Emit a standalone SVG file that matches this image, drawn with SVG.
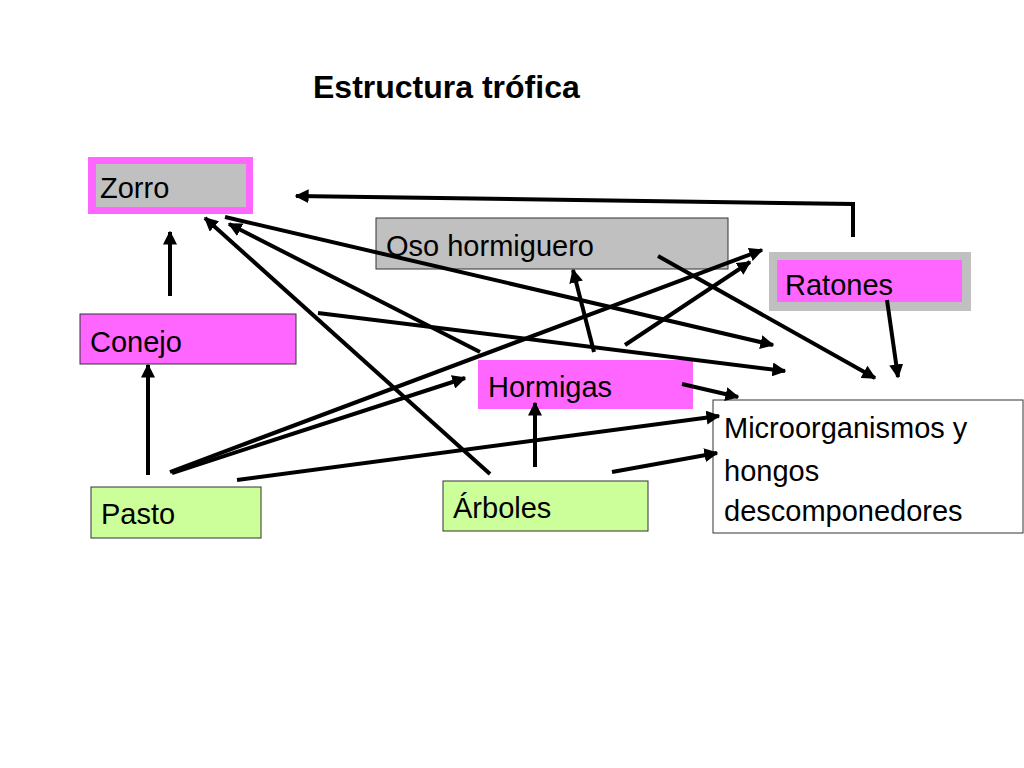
<svg xmlns="http://www.w3.org/2000/svg" width="1024" height="768" viewBox="0 0 1024 768">
<style>
text{font-family:"Liberation Sans",Arial,sans-serif;font-size:29px;fill:#000}
.c line,.c polyline{stroke:#000;stroke-width:4;fill:none;marker-end:url(#ah)}
</style>
<defs><marker id="ah" viewBox="0 0 10 10" refX="9" refY="5" markerWidth="3.5" markerHeight="3.5" orient="auto" markerUnits="strokeWidth"><path d="M0,0L10,5L0,10z" fill="#000"/></marker></defs>
<rect width="1024" height="768" fill="#fff"/>
<text x="313" y="98" style="font-size:32px;font-weight:bold">Estructura trófica</text>
<g id="zorro"><rect x="88" y="157" width="165" height="57" fill="#ff66ff"/><rect x="96" y="164" width="150" height="43" fill="#c0c0c0"/><text x="100" y="198">Zorro</text></g>
<g id="oso"><rect x="376" y="218" width="352" height="51" fill="#c0c0c0" stroke="#333"/><text x="386" y="256">Oso hormiguero</text></g>
<g id="ratones"><rect x="769" y="252" width="202" height="59" fill="#c0c0c0"/><rect x="777" y="260" width="185" height="42" fill="#ff66ff"/><text x="785" y="295">Ratones</text></g>
<g id="conejo"><rect x="80" y="314" width="216" height="50" fill="#ff66ff" stroke="#333"/><text x="90" y="352">Conejo</text></g>
<g id="hormigas"><rect x="478" y="360" width="215" height="49" fill="#ff66ff"/><text x="488" y="397">Hormigas</text></g>
<g id="micro"><rect x="713" y="400" width="310" height="133" fill="#fff" stroke="#333"/><text x="724" y="438">Microorganismos y</text><text x="724" y="481">hongos</text><text x="724" y="521">descomponedores</text></g>
<g id="pasto"><rect x="91" y="487" width="170" height="51" fill="#ccff99" stroke="#333"/><text x="101" y="524">Pasto</text></g>
<g id="arboles"><rect x="443" y="481" width="205" height="50" fill="#ccff99" stroke="#333"/><text x="453" y="518">Árboles</text></g>
<g class="c">
<polyline points="853,237 853,204 296,196"/>
<line x1="170" y1="296" x2="170" y2="232"/>
<line x1="148" y1="475" x2="148" y2="365"/>
<line x1="225" y1="217" x2="773" y2="345"/>
<line x1="480" y1="352" x2="229" y2="224"/>
<line x1="490" y1="474" x2="205" y2="218"/>
<line x1="318" y1="313" x2="785" y2="371"/>
<line x1="170" y1="472" x2="762" y2="250"/>
<line x1="172" y1="473" x2="465" y2="378"/>
<line x1="237" y1="480" x2="719" y2="416"/>
<line x1="535" y1="467" x2="535" y2="403"/>
<line x1="594" y1="352" x2="573" y2="270"/>
<line x1="625" y1="345" x2="750" y2="262"/>
<line x1="682" y1="384" x2="738" y2="397"/>
<line x1="612" y1="472" x2="717" y2="453"/>
<line x1="658" y1="256" x2="875" y2="378"/>
<line x1="887" y1="300" x2="898" y2="377"/>
</g>
</svg>
